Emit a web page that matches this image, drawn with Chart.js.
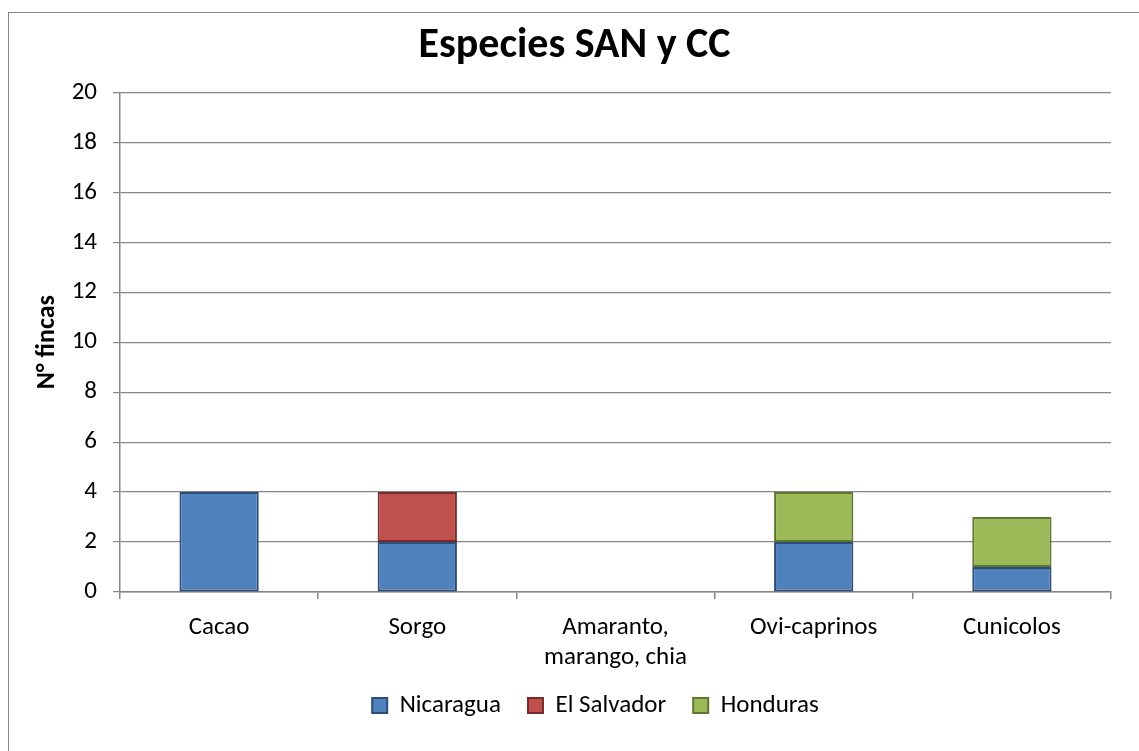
<!DOCTYPE html>
<html lang="es">
<head>
  <meta charset="UTF-8" />
  <title>Especies SAN y CC</title>
  <style>
    html, body { margin: 0; padding: 0; background: #fff; }
    #wrap { position: relative; width: 1139px; height: 751px; overflow: hidden; }
    #frame {
      position: absolute; left: 8px; top: 12px; width: 1200px; height: 800px;
      border: 1px solid #868686; box-sizing: border-box;
    }
    canvas { position: absolute; left: 0; top: 0; }
  </style>
</head>
<body>
  <div id="wrap">
    <div id="frame"></div>
    <canvas id="chart" width="1139" height="751"></canvas>
  </div>

  <script src="https://cdn.jsdelivr.net/npm/chart.js"></script>
  <script>
    const categories = ['Cacao', 'Sorgo', ['Amaranto,', 'marango, chia'], 'Ovi-caprinos', 'Cunicolos'];
    const nicaragua = [4, 2, 0, 2, 1];
    const elSalvador = [0, 2, 0, 0, 0];
    const honduras = [0, 0, 0, 2, 2];

    const FONT = "Calibri, Carlito, 'Open Sans', sans-serif";

    // nudge the legend a bit to the right, like the original
    const legendShift = {
      id: 'legendShift',
      afterLayout(chart) {
        chart.legend.left += 21;
        chart.legend.right += 21;
      }
    };

    const ctx = document.getElementById('chart').getContext('2d');
    new Chart(ctx, {
      type: 'bar',
      data: {
        labels: categories,
        datasets: [
          { label: 'Nicaragua', data: nicaragua, backgroundColor: '#4f81bd', borderColor: '#2c4d75', borderWidth: 2 },
          { label: 'El Salvador', data: elSalvador, backgroundColor: '#c0504d', borderColor: '#772c2a', borderWidth: 2 },
          { label: 'Honduras', data: honduras, backgroundColor: '#9bbb59', borderColor: '#5f7530', borderWidth: 2 }
        ]
      },
      plugins: [legendShift],
      options: {
        responsive: false,
        animation: false,
        layout: { padding: { left: 38, right: 28, top: 14, bottom: 23 } },
        datasets: { bar: { barPercentage: 0.4, categoryPercentage: 1, borderSkipped: false } },
        scales: {
          x: {
            stacked: true,
            afterFit: (axis) => {
              axis.height = 74;
              axis._computeLabelArea = () => undefined; // don't clip the two-line label
            },
            grid: { offset: true, drawOnChartArea: false, drawTicks: true, tickLength: 7, color: '#868686', lineWidth: 1.5 },
            border: { color: '#868686', width: 1.5 },
            ticks: { color: '#000', font: { family: FONT, size: 25 }, padding: 14 }
          },
          y: {
            stacked: true,
            min: 0,
            max: 20,
            afterFit: (axis) => { axis.width = 82; },
            ticks: { stepSize: 2, color: '#000', font: { family: FONT, size: 25 }, padding: 16 },
            grid: { color: '#868686', lineWidth: 1.2, tickLength: 7 },
            border: { color: '#868686', width: 1.5 },
            title: { display: true, text: 'N° fincas', color: '#000', font: { family: FONT, size: 26, weight: 'bold' }, padding: { top: -6, bottom: 0 } }
          }
        },
        plugins: {
          title: {
            display: true,
            text: 'Especies SAN y CC',
            color: '#000',
            font: { family: FONT, size: 42, weight: 'bold' },
            padding: { top: 7, bottom: 21 }
          },
          legend: {
            position: 'bottom',
            labels: {
              color: '#000',
              boxWidth: 15,
              boxHeight: 15,
              padding: 27,
              font: { family: FONT, size: 25 }
            }
          },
          tooltip: { enabled: false }
        }
      }
    });
  </script>
</body>
</html>
